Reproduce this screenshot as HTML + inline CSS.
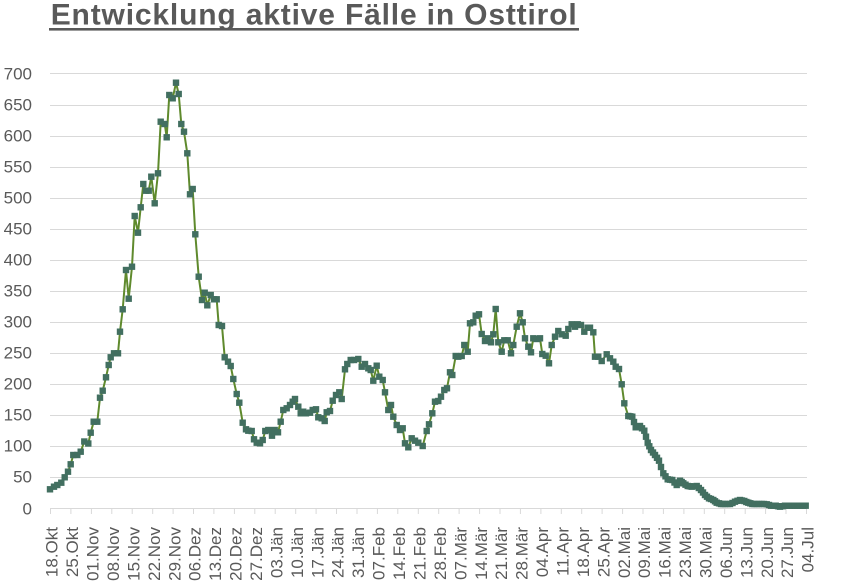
<!DOCTYPE html>
<html><head><meta charset="utf-8"><style>
html,body{margin:0;padding:0;background:#fff;}
svg{display:block;}
text{font-family:"Liberation Sans",Arial,sans-serif;fill:#595959;}
</style></head><body>
<svg width="846" height="581" viewBox="0 0 846 581" xmlns="http://www.w3.org/2000/svg">
<defs>
<marker id="m" markerWidth="8" markerHeight="8" refX="3.2" refY="3.2" markerUnits="userSpaceOnUse" orient="0" overflow="visible">
<rect x="0" y="0" width="6.4" height="6.4" fill="#426f60"/>
</marker>
</defs>
<rect width="846" height="581" fill="#fff"/>
<text x="50.7" y="24.3" font-size="30" font-weight="bold" textLength="526" lengthAdjust="spacing">Entwicklung aktive Fälle in Osttirol</text>
<rect x="49" y="28" width="530" height="2.6" fill="#595959"/>
<g stroke="#d9d9d9" stroke-width="1">
<line x1="50" x2="807" y1="73.5" y2="73.5"/>
<line x1="50" x2="807" y1="105.5" y2="105.5"/>
<line x1="50" x2="807" y1="136.5" y2="136.5"/>
<line x1="50" x2="807" y1="167.5" y2="167.5"/>
<line x1="50" x2="807" y1="198.5" y2="198.5"/>
<line x1="50" x2="807" y1="229.5" y2="229.5"/>
<line x1="50" x2="807" y1="260.5" y2="260.5"/>
<line x1="50" x2="807" y1="291.5" y2="291.5"/>
<line x1="50" x2="807" y1="322.5" y2="322.5"/>
<line x1="50" x2="807" y1="353.5" y2="353.5"/>
<line x1="50" x2="807" y1="384.5" y2="384.5"/>
<line x1="50" x2="807" y1="415.5" y2="415.5"/>
<line x1="50" x2="807" y1="446.5" y2="446.5"/>
<line x1="50" x2="807" y1="477.5" y2="477.5"/>
<line x1="50" x2="807" y1="508.5" y2="508.5"/>
</g>
<g font-size="17" text-anchor="end">
<text x="32" y="79.5">700</text>
<text x="32" y="110.5">650</text>
<text x="32" y="141.5">600</text>
<text x="32" y="172.5">550</text>
<text x="32" y="203.5">500</text>
<text x="32" y="234.5">450</text>
<text x="32" y="265.5">400</text>
<text x="32" y="296.5">350</text>
<text x="32" y="327.5">300</text>
<text x="32" y="358.5">250</text>
<text x="32" y="389.5">200</text>
<text x="32" y="420.5">150</text>
<text x="32" y="451.5">100</text>
<text x="32" y="482.5">50</text>
<text x="32" y="514.5">0</text>
</g>
<g stroke="#d9d9d9" stroke-width="1">
<line x1="50.5" x2="50.5" y1="508" y2="514"/><line x1="70.9" x2="70.9" y1="508" y2="514"/><line x1="91.4" x2="91.4" y1="508" y2="514"/><line x1="111.8" x2="111.8" y1="508" y2="514"/><line x1="132.2" x2="132.2" y1="508" y2="514"/><line x1="152.7" x2="152.7" y1="508" y2="514"/><line x1="173.1" x2="173.1" y1="508" y2="514"/><line x1="193.5" x2="193.5" y1="508" y2="514"/><line x1="213.9" x2="213.9" y1="508" y2="514"/><line x1="234.4" x2="234.4" y1="508" y2="514"/><line x1="254.8" x2="254.8" y1="508" y2="514"/><line x1="275.2" x2="275.2" y1="508" y2="514"/><line x1="295.7" x2="295.7" y1="508" y2="514"/><line x1="316.1" x2="316.1" y1="508" y2="514"/><line x1="336.5" x2="336.5" y1="508" y2="514"/><line x1="357" x2="357" y1="508" y2="514"/><line x1="377.4" x2="377.4" y1="508" y2="514"/><line x1="397.8" x2="397.8" y1="508" y2="514"/><line x1="418.3" x2="418.3" y1="508" y2="514"/><line x1="438.7" x2="438.7" y1="508" y2="514"/><line x1="459.1" x2="459.1" y1="508" y2="514"/><line x1="479.6" x2="479.6" y1="508" y2="514"/><line x1="500" x2="500" y1="508" y2="514"/><line x1="520.4" x2="520.4" y1="508" y2="514"/><line x1="540.9" x2="540.9" y1="508" y2="514"/><line x1="561.3" x2="561.3" y1="508" y2="514"/><line x1="581.7" x2="581.7" y1="508" y2="514"/><line x1="602.1" x2="602.1" y1="508" y2="514"/><line x1="622.6" x2="622.6" y1="508" y2="514"/><line x1="643" x2="643" y1="508" y2="514"/><line x1="663.4" x2="663.4" y1="508" y2="514"/><line x1="683.9" x2="683.9" y1="508" y2="514"/><line x1="704.3" x2="704.3" y1="508" y2="514"/><line x1="724.7" x2="724.7" y1="508" y2="514"/><line x1="745.2" x2="745.2" y1="508" y2="514"/><line x1="765.6" x2="765.6" y1="508" y2="514"/><line x1="786" x2="786" y1="508" y2="514"/><line x1="806.5" x2="806.5" y1="508" y2="514"/>
</g>
<g font-size="17" text-anchor="end">
<text transform="translate(57.7,527) rotate(-90)">18.Okt</text>
<text transform="translate(78.1,527) rotate(-90)">25.Okt</text>
<text transform="translate(98.6,527) rotate(-90)">01.Nov</text>
<text transform="translate(119,527) rotate(-90)">08.Nov</text>
<text transform="translate(139.4,527) rotate(-90)">15.Nov</text>
<text transform="translate(159.9,527) rotate(-90)">22.Nov</text>
<text transform="translate(180.3,527) rotate(-90)">29.Nov</text>
<text transform="translate(200.7,527) rotate(-90)">06.Dez</text>
<text transform="translate(221.1,527) rotate(-90)">13.Dez</text>
<text transform="translate(241.6,527) rotate(-90)">20.Dez</text>
<text transform="translate(262,527) rotate(-90)">27.Dez</text>
<text transform="translate(282.4,527) rotate(-90)">03.Jän</text>
<text transform="translate(302.9,527) rotate(-90)">10.Jän</text>
<text transform="translate(323.3,527) rotate(-90)">17.Jän</text>
<text transform="translate(343.7,527) rotate(-90)">24.Jän</text>
<text transform="translate(364.2,527) rotate(-90)">31.Jän</text>
<text transform="translate(384.6,527) rotate(-90)">07.Feb</text>
<text transform="translate(405,527) rotate(-90)">14.Feb</text>
<text transform="translate(425.5,527) rotate(-90)">21.Feb</text>
<text transform="translate(445.9,527) rotate(-90)">28.Feb</text>
<text transform="translate(466.3,527) rotate(-90)">07.Mär</text>
<text transform="translate(486.8,527) rotate(-90)">14.Mär</text>
<text transform="translate(507.2,527) rotate(-90)">21.Mär</text>
<text transform="translate(527.6,527) rotate(-90)">28.Mär</text>
<text transform="translate(548.1,527) rotate(-90)">04.Apr</text>
<text transform="translate(568.5,527) rotate(-90)">11.Apr</text>
<text transform="translate(588.9,527) rotate(-90)">18.Apr</text>
<text transform="translate(609.3,527) rotate(-90)">25.Apr</text>
<text transform="translate(629.8,527) rotate(-90)">02.Mai</text>
<text transform="translate(650.2,527) rotate(-90)">09.Mai</text>
<text transform="translate(670.6,527) rotate(-90)">16.Mai</text>
<text transform="translate(691.1,527) rotate(-90)">23.Mai</text>
<text transform="translate(711.5,527) rotate(-90)">30.Mai</text>
<text transform="translate(731.9,527) rotate(-90)">06.Jun</text>
<text transform="translate(752.4,527) rotate(-90)">13.Jun</text>
<text transform="translate(772.8,527) rotate(-90)">20.Jun</text>
<text transform="translate(793.2,527) rotate(-90)">27.Jun</text>
<text transform="translate(813.7,527) rotate(-90)">04.Jul</text>
</g>
<polyline fill="none" stroke="#5f8a2d" stroke-width="2" stroke-linejoin="round" marker-start="url(#m)" marker-mid="url(#m)" marker-end="url(#m)" points="50,489.3 54,486.7 57.3,485 61.3,482.7 64.7,477.3 68,471.7 70.7,464.3 73.3,455 77.3,455 80.7,451.7 84.3,441.5 88.3,443.5 90.7,432.7 93.7,421.7 97.3,421.7 100,397.7 102.7,390.7 106,377.3 108.7,365 110.7,357.3 114,353.3 118,353.3 120,331.7 122.7,309.3 126,270 128.7,298.7 132,266.7 134.7,216 138,232.7 140.7,207.3 143.3,184 146,190.7 148.7,190.7 151.3,176.7 154.7,203.3 158,173.3 160.7,121.7 164.7,124 166.7,137.3 169.3,95 172.7,98.3 176,82.7 178.7,94 181.3,124 184,131.7 187.3,153.3 190,194.3 192.7,189 195.3,234.3 198.7,276.7 202,300 204.7,292.7 207.3,305.3 210.7,295 214,299.3 216.7,299.3 218.7,325 222,326 224.7,357.3 228,361.7 230.7,366 233.3,379 236.7,394 239.3,402.7 242.7,422.7 246,429.3 248.3,430.7 251.7,431 254,439.3 256.7,442.7 260,443.3 262.7,440 265.3,431 268.3,430 272,435.7 274.7,430 278,432.3 280.7,421.7 283.3,410 286.7,408.3 290,405 292.7,401.7 295,399 298.3,406.7 300.7,413.3 303.3,411.7 306,413.3 310,412.7 312.7,410 316,409.3 318.3,417.3 321.7,418.3 324.7,421 326.7,412.3 330,411 332.7,400.7 336,395 339.3,392.3 341.7,399 345,369.3 347.3,364 350.7,360 354,360 358.3,359 361.7,366.7 365,364 368.3,368.3 370.7,370 373.3,380.7 376.7,365.7 379.3,376.7 382.7,380 385,392.3 388.3,410 391,405 393.3,416.7 396.7,425 400,430 402.7,428.3 405,443.3 408.3,447.3 411.7,438.3 415,440.7 418.3,442.7 422.7,446 426.7,431 429,424.3 432.3,413.3 435,401.7 438.3,401 441,396.7 444.3,390 447,388.3 450,372.3 452.3,375 455.7,356 458.3,356.7 461.7,356 464.3,345 467.7,351.7 470,323.3 473.3,322.3 475.7,315.7 479,314.3 481.7,334 485,341 487.7,338.3 491,342.3 493.3,334.3 495.7,309 498.3,342.3 501.7,351.7 504.3,340.3 507.7,340.3 511,353.3 513.3,345 516.7,326.7 520,313.3 522.7,322.3 525,338.3 528.3,346.7 531,352.3 533.3,338.3 536.7,339 540,338.3 542.3,354 545.7,355.7 549,363.3 551.7,345 555,336.7 558.3,331 561.7,334.3 565.7,335.7 568.3,329 571.7,324.3 575,326.7 577.7,324.3 581,325 584.3,331.7 587.7,327.7 590,327.7 593.3,332.3 595,356.7 598.3,356.7 601.7,361 606.7,354.3 610,358.3 613.3,361.7 615.7,366.7 619,369 621.7,384.3 624.3,403.3 628.3,416 630.3,416.3 632.3,416.7 634,422 635.7,427.3 638,426.7 640,426 642,428.3 644.3,430.7 646,436.7 647.7,442.7 649.3,446.3 651,450 653,452.5 655,455 657,457.8 659,460.7 661,467 663.3,473.3 665.5,476.3 667.7,479.3 670,479.7 672.3,480 674.5,482.5 676.7,485 678.3,482.8 680,480.7 681.7,482 683.3,483.3 685.5,484.7 687.7,486 689.7,486.3 691.7,486.7 694.2,486.3 696.7,486 698.8,488 701,490 703,492.5 705,495 707,496.7 709,498.3 711,499 713.3,500 715,501.3 716.7,502.7 719,503.3 721,504 723,504 725,504 727.5,504 730,504 732.5,503 735,501.7 737.5,500.8 740,500 742,500.5 744.3,501 746.3,502 748.3,502.7 750.3,503.3 752.3,504 754.5,504 756.7,504 759,504 761.7,504 764,504 766.7,504.3 769,505 771,505.7 773.3,505.7 775.7,505.7 778,506.2 780,506.7 782.5,506.2 785,505.7 787.5,505.7 790,505.7 792.5,505.7 795,505.7 797.5,505.7 800,505.7 803,505.7 805.7,505.7"/>
</svg>
</body></html>
